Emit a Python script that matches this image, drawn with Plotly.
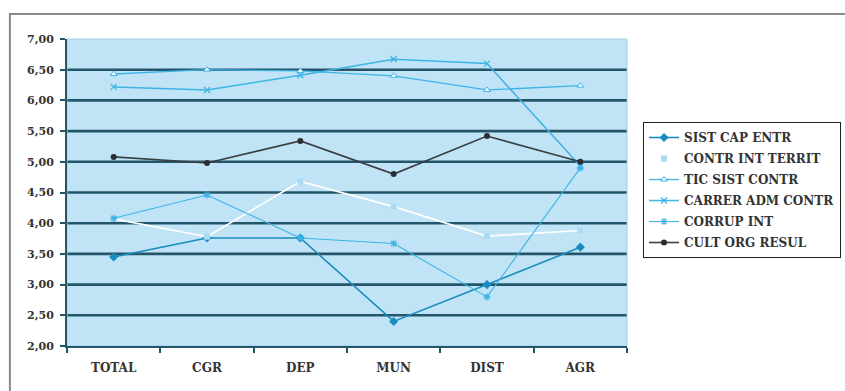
import plotly.graph_objects as go

categories = ["TOTAL", "CGR", "DEP", "MUN", "DIST", "AGR"]

sist_cap_entr = [3.45, 3.76, 3.76, 2.40, 3.00, 3.61]
contr_int_territ = [4.07, 3.78, 4.68, 4.27, 3.79, 3.88]
tic_sist_contr = [6.43, 6.50, 6.48, 6.40, 6.17, 6.24]
carrer_adm_contr = [6.22, 6.17, 6.41, 6.67, 6.60, 4.93]
corrup_int = [4.08, 4.46, 3.76, 3.67, 2.80, 4.90]
cult_org_resul = [5.08, 4.98, 5.34, 4.80, 5.42, 5.00]

y_ticks = [2.0, 2.5, 3.0, 3.5, 4.0, 4.5, 5.0, 5.5, 6.0, 6.5, 7.0]

FONT = "DejaVu Serif"
TEXT = "#333333"
LIGHT = "#3db3e6"

fig = go.Figure()

fig.add_trace(go.Scatter(
    x=categories, y=sist_cap_entr, name="SIST CAP ENTR", mode="lines+markers",
    legendgroup="g1",
    line=dict(color="#1a8cbf", width=1.6),
    marker=dict(symbol="diamond", size=7, color="#1a8cbf"),
))
fig.add_trace(go.Scatter(
    x=categories, y=contr_int_territ, name="CONTR INT TERRIT", mode="lines+markers",
    legendgroup="g2",
    line=dict(color="#ffffff", width=1.6),
    marker=dict(symbol="square", size=6, color="#a9dcf3"),
))
fig.add_trace(go.Scatter(
    x=categories, y=tic_sist_contr, name="TIC SIST CONTR", mode="lines+markers",
    legendgroup="g3",
    line=dict(color=LIGHT, width=1.3),
    marker=dict(symbol="triangle-up", size=6, color="#ffffff",
                line=dict(color=LIGHT, width=1)),
))
fig.add_trace(go.Scatter(
    x=categories, y=carrer_adm_contr, name="CARRER ADM CONTR", mode="lines+markers",
    legendgroup="g4",
    line=dict(color=LIGHT, width=1.5),
    marker=dict(symbol="x-thin-open", size=6, color=LIGHT, line=dict(color=LIGHT, width=1.2)),
))
fig.add_trace(go.Scatter(
    x=categories, y=corrup_int, name="CORRUP INT", mode="lines+markers",
    legendgroup="g5",
    line=dict(color=LIGHT, width=1.1),
    marker=dict(symbol="asterisk-open", size=6, color=LIGHT, line=dict(color=LIGHT, width=1.2)),
))
fig.add_trace(go.Scatter(
    x=categories, y=cult_org_resul, name="CULT ORG RESUL", mode="lines+markers",
    legendgroup="g6",
    line=dict(color="#3a3f44", width=1.6),
    marker=dict(symbol="circle", size=6, color="#2b2f33"),
))

# horizontal bands drawn under the series at each interior tick value
shapes = []
for v in y_ticks[1:-1]:
    shapes.append(dict(type="line", xref="paper", yref="y", x0=0, x1=1, y0=v, y1=v,
                       line=dict(color="#24566b", width=2.6), layer="below"))
# light frame round the plot area
shapes.append(dict(type="rect", xref="paper", yref="paper", x0=0, x1=1, y0=0, y1=1,
                   line=dict(color="#9fcfe6", width=1), layer="below"))
# outer chart frame
shapes.append(dict(type="rect", xref="paper", yref="paper", x0=-0.102, x1=1.6,
                   y0=-0.5, y1=1.0814, line=dict(color="#8a8a8a", width=2), layer="below"))

fig.update_layout(
    width=845, height=391,
    margin=dict(l=67, r=218, t=39, b=45, autoexpand=False),
    paper_bgcolor="#ffffff",
    plot_bgcolor="#c0e4f5",
    separators=",.",
    shapes=shapes,
    showlegend=True,
    legend=dict(
        x=1.0286, y=0.7296, xanchor="left", yanchor="top",
        bgcolor="#ffffff", bordercolor="#222222", borderwidth=1,
        font=dict(family=FONT, size=12, color=TEXT, weight="bold"),
        tracegroupgap=2, itemwidth=30,
    ),
    xaxis=dict(
        type="category", showgrid=False, zeroline=False,
        showline=True, linecolor="#24566b", linewidth=2,
        ticks="outside", tickson="boundaries", ticklen=5, tickcolor="#24566b", tickwidth=2,
        tickfont=dict(family=FONT, size=12, color=TEXT, weight="bold"),
        ticklabelstandoff=10,
        range=[-0.5, 5.5],
    ),
    yaxis=dict(
        range=[2, 7], tickvals=y_ticks, tickformat=".2f",
        showgrid=False, zeroline=False,
        showline=True, linecolor="#24566b", linewidth=2,
        ticks="outside", ticklen=5, tickcolor="#24566b", tickwidth=2,
        tickfont=dict(family=FONT, size=11, color=TEXT, weight="bold"),
        ticklabelstandoff=4,
    ),
)

fig.write_html("out.html")
